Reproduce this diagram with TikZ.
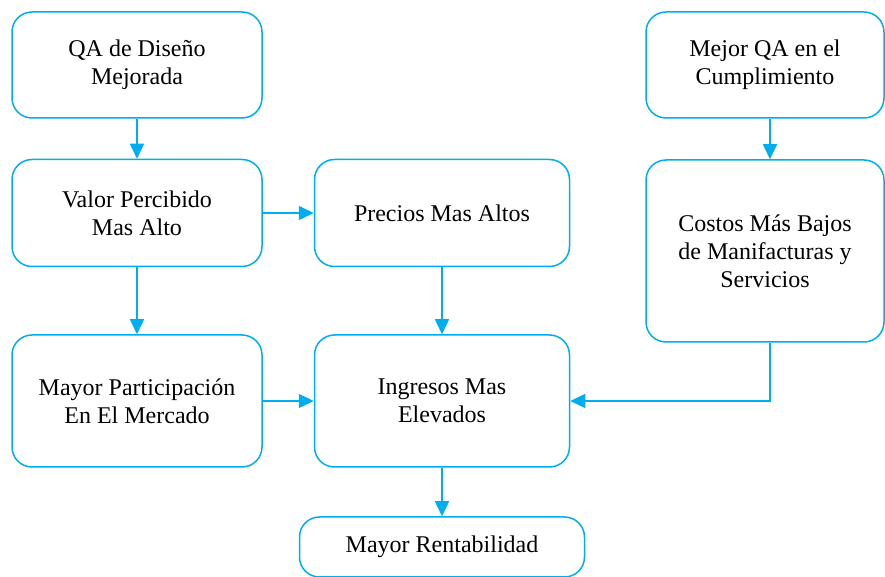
\documentclass[tikz,border=0pt]{standalone}
\usepackage{fontspec}
\setmainfont{LiberationSerif}[Extension=.ttf, UprightFont=*-Regular, BoldFont=*-Bold]
\usetikzlibrary{shapes.geometric, arrows.meta}
\definecolor{qablue}{RGB}{0,174,239}
\tikzstyle{box} = [rectangle, rounded corners=10pt, align=center, text centered, draw=qablue, line width=0.75pt, fill=white, font=\rmfamily\fontsize{12}{14}\selectfont]
\tikzstyle{arrow} = [draw=qablue, line width=0.75pt, -{Triangle[length=7.5pt,width=7pt]}]

\begin{document}
\begin{tikzpicture}
\useasboundingbox (0,0) rectangle (442.5pt,-288.5pt);
\node (qa) [box, minimum width=125pt, minimum height=53pt] at (68.5pt,-32.5pt) {QA de Diseño\\Mejorada};
\node (valor) [box, below of=qa, node distance=74pt, minimum width=125pt, minimum height=53.5pt] {Valor Percibido\\Mas Alto};
\node (particip) [box, below of=valor, node distance=94pt, minimum width=125pt, minimum height=66pt] {Mayor Participación\\En El Mercado};
\node (precios) [box, right of=valor, node distance=152.5pt, minimum width=127.5pt, minimum height=53.5pt] {Precios Mas Altos};
\node (ingresos) [box, below of=precios, node distance=94pt, minimum width=127.5pt, minimum height=66pt] {Ingresos Mas\\Elevados};
\node (rentab) [box, below of=ingresos, node distance=73pt, minimum width=142.5pt, minimum height=30pt] {Mayor Rentabilidad};
\node (mejor) [box, right of=qa, node distance=314pt, minimum width=119pt, minimum height=53pt] {Mejor QA en el\\Cumplimiento};
\node (costos) [box, below of=mejor, node distance=93pt, minimum width=119pt, minimum height=91pt] {Costos Más Bajos\\de Manifacturas y\\Servicios};

\draw [arrow] (qa) -- (valor);
\draw [arrow] (valor) -- (precios);
\draw [arrow] (valor) -- (particip);
\draw [arrow] (precios) -- (ingresos);
\draw [arrow] (particip) -- (ingresos);
\draw [arrow] ([xshift=2.5pt]mejor.south) -- ([xshift=2.5pt]costos.north);
\draw [arrow] ([xshift=2.5pt]costos.south) |- (ingresos.east);
\draw [arrow] (ingresos) -- (rentab);

\end{tikzpicture}
\end{document}
